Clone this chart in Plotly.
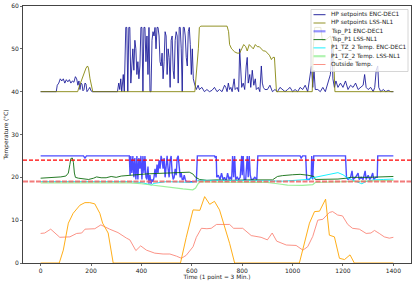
import plotly.graph_objects as go

# ---------------- data (time index, value) ----------------
hp_enc_t = [0, 62, 66, 72, 78, 84, 90, 96, 102, 108, 114, 120, 126, 132, 138, 143, 148, 152, 156, 160,
            164, 168, 172, 176, 180, 184, 190, 195, 200, 205, 305, 310, 314, 318, 322, 328, 332, 338, 342, 346,
            350, 354, 358, 362, 366, 370, 374, 378, 382, 386, 390, 394, 398, 402, 406, 410, 414, 418, 422, 426,
            430, 434, 438, 442, 446, 450, 454, 458, 462, 466, 470, 474, 478, 482, 486, 490, 494, 498, 502, 506,
            510, 514, 518, 522, 526, 530, 534, 538, 542, 546, 550, 554, 558, 562, 566, 570, 574, 578, 582, 586,
            590, 594, 598, 602, 606, 610, 614, 618, 625, 630, 640, 650, 660, 670, 680, 690, 700, 710, 720, 730,
            735, 740, 745, 750, 755, 760, 768, 772, 780, 786, 790, 794, 798, 804, 810, 816, 820, 824, 830, 834,
            840, 846, 852, 856, 864, 870, 876, 880, 884, 890, 900, 910, 920, 930, 940, 950, 960, 970, 980, 990,
            1000, 1010, 1020, 1030, 1040, 1050, 1060, 1070, 1075, 1080, 1085, 1090, 1100, 1110, 1120, 1130, 1140, 1150, 1156, 1160,
            1166, 1172, 1180, 1190, 1200, 1210, 1220, 1230, 1240, 1250, 1260, 1270, 1280, 1286, 1292, 1300, 1310, 1320, 1326, 1332,
            1338, 1342, 1350, 1360, 1370, 1380, 1390, 1400]
hp_enc_v = [40, 40, 41.5, 42, 43, 42.5, 43, 42, 42.8, 42.3, 42.8, 42, 42.5, 42.2, 43.5, 43, 41.5, 42.5, 40.5, 42,
            41.8, 40.2, 40.5, 42, 41.8, 40, 40.5, 41, 40.2, 40, 40, 42, 40.5, 43, 40, 44, 40, 55, 55, 40,
            55, 55, 42, 48, 50, 45, 52, 50, 44, 47, 43, 46, 55, 55, 40, 55, 55, 47, 53, 44,
            55, 40, 40, 52, 54, 53, 55, 50, 55, 55, 53, 47, 46, 49, 43, 47, 54, 53, 44, 50,
            48, 41, 52, 53, 45, 43, 52, 54, 53, 42, 55, 55, 50, 40, 55, 55, 53, 48, 46, 54,
            55, 51, 44, 50, 43, 42, 41, 40.5, 41.5, 40.5, 41, 40, 40.5, 40, 40.3, 41, 40, 40.5, 40, 41.5,
            41, 40, 42, 40.5, 41, 40, 43, 40.5, 41, 40, 50, 44, 41, 42, 40.5, 46, 48, 42, 44, 41,
            45, 41.5, 43, 40.5, 41, 40, 46, 42, 41, 40.5, 40.5, 41.5, 40, 40.5, 40, 41, 40.5, 40, 40.5, 41,
            40, 40.5, 40, 41, 40.5, 41.5, 40, 44, 46, 41, 45, 40.5, 40.5, 40, 41, 40, 42, 44, 50, 43,
            41, 42.5, 41, 42, 41, 42.5, 40.5, 41.5, 41, 42, 40.5, 41, 41.5, 44, 41, 40.5, 41, 40, 41, 45,
            46, 41, 40, 40.5, 40, 40.3, 40, 40]

hp_lss_t = [0, 147, 152, 158, 165, 172, 180, 186, 190, 196, 202, 207, 612, 618, 622, 626, 630, 636, 700, 740,
            746, 750, 758, 770, 780, 790, 798, 806, 814, 820, 828, 836, 844, 852, 860, 868, 876, 884, 892, 900,
            908, 916, 922, 928, 932, 936, 1078, 1082, 1088, 1112, 1118, 1130, 1150, 1162, 1168, 1400]
hp_lss_v = [40, 40, 41, 42, 43.5, 44.5, 45.5, 46, 45.5, 43, 41, 40, 40, 44, 46, 50, 55, 55.3, 55.3, 55.3,
            54, 51, 50, 49.3, 49, 49, 50, 51, 50.5, 49.5, 51, 50.5, 50, 51, 50.5, 50.5, 50, 49.5, 49.5, 49,
            48.5, 47.5, 48, 48, 45, 40, 40, 50, 55, 55, 52, 52, 53, 50, 40, 40]

tsp_enc_t = [0, 170, 176, 182, 352, 355, 358, 362, 366, 370, 374, 378, 382, 386, 390, 394, 398, 402, 406, 410,
             414, 418, 422, 426, 430, 434, 438, 442, 446, 450, 454, 458, 462, 466, 470, 474, 478, 482, 486, 490,
             494, 498, 502, 506, 510, 514, 518, 522, 526, 530, 534, 538, 542, 546, 550, 554, 558, 562, 566, 570,
             574, 578, 618, 622, 690, 694, 697, 699, 705, 712, 718, 724, 730, 736, 742, 748, 752, 758, 762, 766,
             770, 774, 780, 786, 792, 798, 800, 804, 808, 814, 820, 824, 828, 832, 836, 842, 850, 858, 862, 1030,
             1034, 1040, 1052, 1056, 1066, 1074, 1076, 1080, 1084, 1088, 1210, 1214, 1220, 1230, 1236, 1240, 1250, 1260, 1264, 1272,
             1280, 1288, 1292, 1300, 1306, 1312, 1318, 1322, 1330, 1336, 1338, 1400]
tsp_enc_v = [25, 25, 24.5, 25, 25, 20.5, 25, 21, 25, 20, 24.5, 19.5, 25, 19.5, 24.5, 22, 25, 19.5, 25, 21,
             25, 20, 19.5, 22.5, 18.5, 20.5, 18.5, 19.5, 19, 20, 22, 20, 23, 21, 24, 22, 25, 24, 22, 24.5,
             20, 23, 25, 22, 20, 24, 25, 21, 19.5, 20, 22, 20.5, 24.5, 25, 23, 20, 21, 19.5, 19.5, 20.5,
             19.5, 19, 19, 25, 25, 24.5, 25, 20, 20.5, 19.5, 21, 19.5, 20, 19, 21, 19.5, 20, 19.5, 25, 20,
             25, 19.5, 20, 19.5, 20, 25, 20.5, 25, 19.5, 19.5, 25, 20, 25, 20.5, 19.5, 19.5, 20, 19.5, 25, 25,
             24.5, 25, 25, 19.5, 19.5, 20, 25, 19.5, 25, 25, 25, 20, 19.5, 20, 21.5, 19.5, 20, 21, 19.5, 20,
             19.5, 21.5, 19.5, 20.5, 19.5, 20, 21, 19.5, 20, 20, 25, 25]

tsp_lss_t = [0, 40, 80, 100, 110, 116, 120, 126, 130, 134, 138, 150, 170, 190, 210, 222, 240, 260, 280, 300,
             320, 354, 380, 420, 460, 500, 540, 565, 590, 604, 615, 631, 660, 700, 760, 820, 880, 920, 940, 960,
             1000, 1030, 1060, 1085, 1090, 1130, 1180, 1213, 1230, 1300, 1350, 1400]
tsp_lss_v = [19.8, 19.9, 20.1, 20.3, 21, 23, 24.4, 24.5, 23.5, 21, 20, 19.8, 19.6, 19.5, 19.8, 20.1, 19.9, 19.9, 20.2, 20,
             20.3, 20.5, 20.6, 20.8, 20.9, 21, 21.2, 21.3, 21.2, 20.8, 20, 19.5, 19.3, 19.4, 19.3, 19.4, 19.3, 19.4, 20.2, 20.4,
             20.6, 20.7, 20.5, 20.2, 19.5, 19.5, 19.6, 19.8, 20, 20, 20.1, 20.2]

tz_enc_t = [0, 100, 200, 300, 354, 400, 430, 440, 450, 470, 500, 560, 600, 630, 700, 800, 900, 960, 1000, 1040,
            1060, 1080, 1120, 1160, 1180, 1200, 1220, 1240, 1260, 1275, 1290, 1320, 1360, 1400]
tz_enc_v = [19, 19, 19.1, 19.1, 19, 18.8, 18.4, 18.2, 18.6, 18.8, 19, 18.9, 18.8, 19.3, 19.3, 19.2, 19.2, 19.1, 19.3, 19.4,
            19.5, 19.9, 20.4, 20.8, 21.1, 20.6, 19.8, 19.3, 18.8, 18.5, 19, 19.4, 19.5, 19.6]

tz_lss_t = [0, 100, 200, 300, 354, 400, 440, 480, 520, 565, 604, 615, 625, 635, 700, 800, 900, 940, 980, 1040,
            1080, 1090, 1150, 1213, 1300, 1400]
tz_lss_v = [18.7, 18.7, 18.8, 18.8, 18.7, 18.5, 18.2, 17.8, 17.5, 17.3, 17.1, 17.5, 18.5, 19, 18.9, 18.8, 18.8, 18.5, 18.2, 18.1,
            18.3, 18.8, 18.9, 19.1, 19.2, 19.3]

out_t = [0, 16, 40, 76, 116, 143, 163, 176, 215, 239, 274, 307, 341, 354, 378, 397, 420, 453, 486, 513,
         539, 559, 578, 605, 618, 638, 660, 677, 698, 750, 766, 802, 836, 875, 900, 919, 937, 975, 1014, 1041,
         1060, 1080, 1100, 1120, 1146, 1159, 1179, 1198, 1219, 1238, 1265, 1292, 1311, 1325, 1344, 1364, 1384, 1400]
out_v = [6.9, 7.0, 7.9, 6.0, 6.1, 6.9, 7.0, 7.9, 8.0, 8.9, 7.9, 7.1, 5.8, 5.4, 2.9, 4.0, 3.0, 2.3, 2.1, 2.1,
         1.6, 1.1, 1.8, 3.8, 6.0, 8.1, 8.0, 8.1, 9.0, 9.0, 8.1, 8.1, 6.4, 6.0, 5.4, 7.0, 5.1, 4.2, 4.1, 3.0,
         3.8, 6.2, 10.0, 10.2, 11.8, 12.0, 11.2, 11.0, 9.0, 8.1, 7.9, 6.9, 7.0, 7.6, 6.9, 6.1, 5.8, 6.0]

sun_t = [0, 74, 90, 110, 129, 156, 176, 195, 215, 235, 246, 268, 288, 555, 578, 605, 632, 651, 671, 690,
         710, 730, 750, 770, 1027, 1067, 1087, 1107, 1131, 1146, 1166, 1186, 1206, 1228, 1245, 1400]
sun_v = [0, 0, 3.0, 9.3, 11.6, 13.5, 14.1, 14.1, 13.8, 11.6, 9.3, 7.0, 0, 0, 6.0, 12.4, 12.3, 15.5, 13.7, 14.4,
         12.4, 8.5, 4.6, 0, 0, 9.3, 12.0, 12.1, 14.9, 6.5, 6.1, 1.1, 0.8, 1.9, 0, 0]

upper_limit = 24
lower_limit = 19

x_ticks = [0, 200, 400, 600, 800, 1000, 1200, 1400]
y_ticks = [0, 10, 20, 30, 40, 50, 60]

legend_labels = ["HP setpoints ENC-DEC1", "HP setpoints LSS-NL1", "Tsp_P1 ENC-DEC1", "Tsp_P1 LSS-NL1",
                 "P1_TZ_2 Temp. ENC-DEC1", "P1_TZ_2 Temp. LSS-NL1", "Outside Temp."]
x_title = "Time (1 point = 3 Min.)"
y_title = "Temperature (°C)"

# ---------------- styles ----------------
styles = [
    (hp_enc_t, hp_enc_v, legend_labels[0], "rgba(20,20,150,0.85)", 1.0),
    (hp_lss_t, hp_lss_v, legend_labels[1], "rgba(128,128,0,0.85)", 1.0),
    (tsp_enc_t, tsp_enc_v, legend_labels[2], "rgba(0,0,255,0.7)", 1.4),
    (tsp_lss_t, tsp_lss_v, legend_labels[3], "rgba(0,100,0,0.85)", 1.0),
    (tz_enc_t, tz_enc_v, legend_labels[4], "rgba(0,240,255,0.9)", 1.0),
    (tz_lss_t, tz_lss_v, legend_labels[5], "rgba(144,238,144,0.9)", 1.2),
    (out_t, out_v, legend_labels[6], "rgba(250,128,114,0.85)", 1.0),
]
legend_styles = [
    ("rgba(20,20,150,0.9)", 1.0), ("rgba(128,128,0,0.85)", 1.0), ("rgba(60,60,255,0.55)", 2.2),
    ("rgba(0,100,0,0.85)", 1.0), ("rgba(0,240,255,0.9)", 1.0), ("rgba(144,238,144,0.7)", 2.2),
    ("rgba(250,128,114,0.85)", 1.0),
]

fig = go.Figure()
for t, v, name, color, w in styles:
    fig.add_trace(go.Scatter(x=t, y=v, mode="lines", name=name, showlegend=False,
                             line=dict(color=color, width=w)))
fig.add_trace(go.Scatter(x=sun_t, y=sun_v, mode="lines", showlegend=False,
                         line=dict(color="rgba(255,165,0,0.9)", width=1.0)))

# layout geometry (pixels)
W, H = 416, 285
L, R, T, B = 23, 5, 6, 22
pw, ph = W - L - R, H - T - B


def px2x(px):
    return (px - L) / pw


def py2y(py):
    return (H - B - py) / ph


shapes = [
    dict(type="line", xref="paper", yref="y", x0=0, x1=1, y0=upper_limit, y1=upper_limit,
         line=dict(color="#ff0000", width=1.2, dash="4px,2px"), layer="above"),
    dict(type="line", xref="paper", yref="y", x0=0, x1=1, y0=lower_limit, y1=lower_limit,
         line=dict(color="rgba(240,100,100,0.85)", width=2, dash="5px,1.5px"), layer="above"),
    dict(type="rect", xref="paper", yref="paper", x0=px2x(311), x1=px2x(408), y0=py2y(71.5), y1=py2y(9.5),
         fillcolor="rgba(255,255,255,0.8)", line=dict(color="#cccccc", width=0.8), layer="above"),
]
annotations = []
entry_y0, entry_dy = 14.7, 8.3
for i, (lab, (c, w)) in enumerate(zip(legend_labels, legend_styles)):
    yy = py2y(entry_y0 + i * entry_dy)
    shapes.append(dict(type="line", xref="paper", yref="paper", x0=px2x(313.5), x1=px2x(325.5),
                       y0=yy, y1=yy, line=dict(color=c, width=w), layer="above"))
    annotations.append(dict(text=lab, xref="paper", yref="paper", x=px2x(330), y=yy,
                            xanchor="left", yanchor="middle", showarrow=False, borderpad=0,
                            font=dict(size=5.8, color="#222222", family="DejaVu Sans")))

axis_common = dict(showline=True, mirror=True, linecolor="#444", linewidth=1, ticks="outside",
                   ticklen=2, tickwidth=0.8, tickcolor="#444", showgrid=False, zeroline=False,
                   automargin=False, tickfont=dict(size=6, color="#222222", family="DejaVu Sans"))

fig.update_layout(
    width=W, height=H, margin=dict(l=L, r=R, t=T, b=B, autoexpand=False),
    paper_bgcolor="white", plot_bgcolor="white", hovermode=False,
    shapes=shapes, annotations=annotations, showlegend=False,
    xaxis=dict(range=[-70, 1470], tickvals=x_ticks,
               title=dict(text=x_title, standoff=1,
                          font=dict(size=5.8, color="#222222", family="DejaVu Sans")),
               **axis_common),
    yaxis=dict(range=[0, 60], tickvals=y_ticks,
               title=dict(text=y_title, standoff=2,
                          font=dict(size=5.8, color="#222222", family="DejaVu Sans")),
               **axis_common),
)

fig.write_html("out.html", config={"staticPlot": True, "displayModeBar": False},
               post_script="document.body.style.margin='0';document.body.style.padding='0';")
